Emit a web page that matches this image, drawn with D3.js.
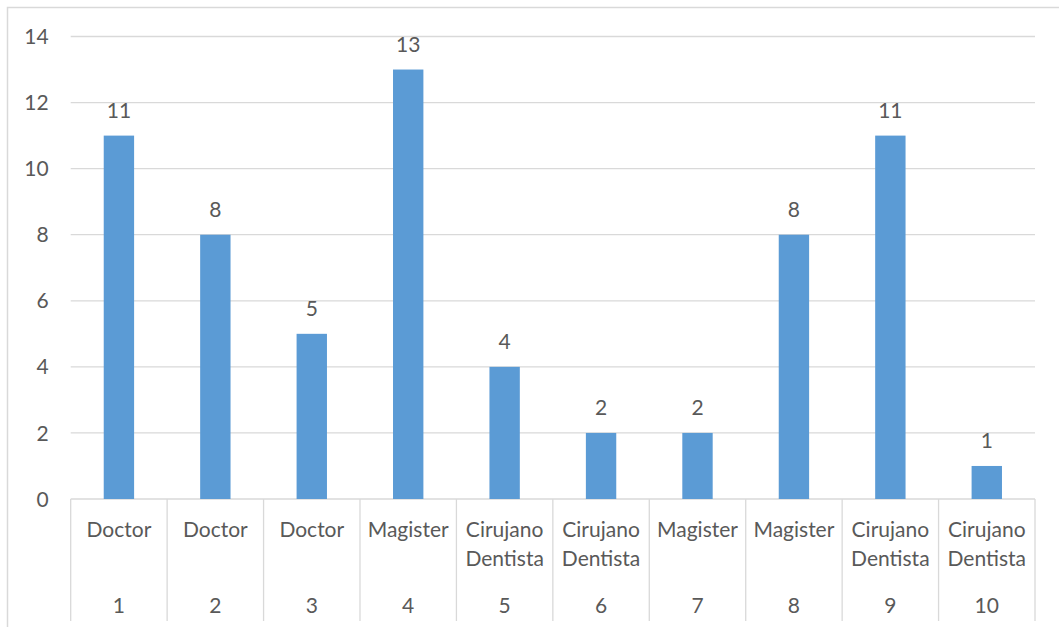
<!DOCTYPE html>
<html>
<head>
<meta charset="utf-8">
<script src="https://cdn.jsdelivr.net/npm/d3@7"></script>
<style>
  html, body { margin: 0; padding: 0; background: #fff; }
  svg { display: block; }
  text { font-family: Lato, "Open Sans", sans-serif; fill: #595959; }
</style>
</head>
<body>
<svg id="chart" width="1059" height="627"></svg>
<script>
// Chart data
const ids = ["1", "2", "3", "4", "5", "6", "7", "8", "9", "10"];
const degrees = ["Doctor", "Doctor", "Doctor", "Magister", "Cirujano Dentista",
                 "Cirujano Dentista", "Magister", "Magister", "Cirujano Dentista", "Cirujano Dentista"];
const counts = [11, 8, 5, 13, 4, 2, 2, 8, 11, 1];
const yTicks = [0, 2, 4, 6, 8, 10, 12, 14];

const svg = d3.select("#chart");
const W = 1059, H = 627;
const plot = { left: 70.7, right: 1035, top: 36.5, bottom: 499 };
const fontSize = 21;

// outer chart frame (runs past the right and bottom edges)
svg.append("rect")
  .attr("x", 7.5).attr("y", 7.5)
  .attr("width", W + 10).attr("height", H + 10)
  .attr("fill", "none").attr("stroke", "#D9D9D9").attr("stroke-width", 1.5);

const x = d3.scaleBand()
  .domain(ids)
  .range([plot.left, plot.right])
  .paddingInner(0).paddingOuter(0);

const y = d3.scaleLinear()
  .domain([0, 14])
  .range([plot.bottom, plot.top]);

// horizontal gridlines
svg.append("g")
  .selectAll("line")
  .data(yTicks)
  .join("line")
  .attr("x1", plot.left).attr("x2", plot.right)
  .attr("y1", d => y(d)).attr("y2", d => y(d))
  .attr("stroke", "#D9D9D9").attr("stroke-width", 1.3);

// value axis labels
const yAxis = d3.axisLeft(y).tickValues(yTicks).tickSize(0).tickPadding(0);
const gy = svg.append("g")
  .attr("transform", `translate(${plot.left - 22},0)`)
  .call(yAxis);
gy.select(".domain").remove();
gy.selectAll("text")
  .attr("font-size", fontSize)
  .style("font-family", "Lato, 'Open Sans', sans-serif")
  .attr("fill", "#595959")
  .attr("dy", "0.34em");

// bars
const barW = x.bandwidth() * 0.315;
svg.append("g")
  .selectAll("rect")
  .data(counts)
  .join("rect")
  .attr("x", (d, i) => x(ids[i]) + (x.bandwidth() - barW) / 2)
  .attr("y", d => y(d))
  .attr("width", barW)
  .attr("height", d => y(0) - y(d))
  .attr("fill", "#5B9BD5");

// value labels
svg.append("g")
  .selectAll("text")
  .data(counts)
  .join("text")
  .attr("x", (d, i) => x(ids[i]) + x.bandwidth() / 2)
  .attr("y", d => y(d) - 17.5)
  .attr("text-anchor", "middle")
  .attr("font-size", fontSize)
  .text(d => d);

// category separators below the axis
const seps = ids.map(id => x(id)).concat([plot.right]);
svg.append("g")
  .selectAll("line")
  .data(seps)
  .join("line")
  .attr("x1", d => d).attr("x2", d => d)
  .attr("y1", plot.bottom).attr("y2", 621)
  .attr("stroke", "#D9D9D9").attr("stroke-width", 1.3);

// inner level: degree names (wrapped to two lines)
const inner = svg.append("g");
degrees.forEach((name, i) => {
  const words = name.split(" ");
  const t = inner.append("text")
    .attr("x", x(ids[i]) + x.bandwidth() / 2)
    .attr("y", 537)
    .attr("text-anchor", "middle")
    .attr("font-size", fontSize);
  words.forEach((w, k) => {
    t.append("tspan")
      .attr("x", x(ids[i]) + x.bandwidth() / 2)
      .attr("y", 537 + k * 29)
      .text(w);
  });
});

// outer level: ids
svg.append("g")
  .selectAll("text")
  .data(ids)
  .join("text")
  .attr("x", d => x(d) + x.bandwidth() / 2)
  .attr("y", 612.5)
  .attr("text-anchor", "middle")
  .attr("font-size", fontSize)
  .text(d => d);
</script>
</body>
</html>
